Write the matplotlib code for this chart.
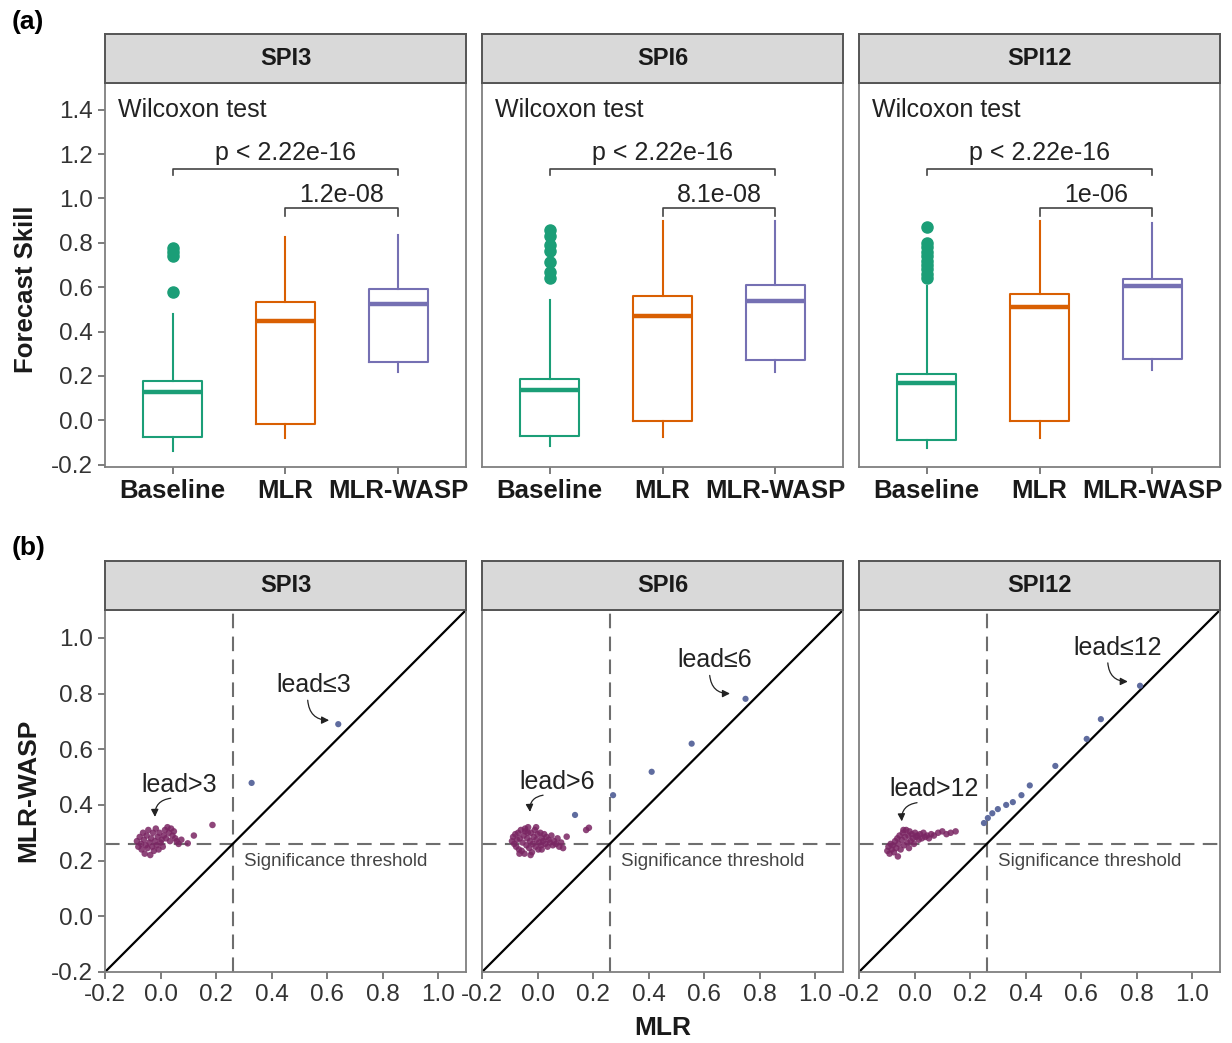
import matplotlib
matplotlib.use('Agg')
import matplotlib.pyplot as plt

plt.rcParams['font.family'] = ['Liberation Sans', 'DejaVu Sans']

W, H = 1232, 1043

spi_names = ['SPI3', 'SPI6', 'SPI12']
models = ['Baseline', 'MLR', 'MLR-WASP']
model_colors = ['#1b9e77', '#d95f02', '#7570b3']

# box statistics, rows = SPI3 / SPI6 / SPI12, cols = Baseline / MLR / MLR-WASP
box_med = [[0.13, 0.446, 0.524], [0.138, 0.469, 0.536], [0.168, 0.509, 0.604]]
box_q1 = [[-0.077, -0.017, 0.261], [-0.069, -0.005, 0.273], [-0.087, -0.005, 0.276]]
box_q3 = [[0.179, 0.533, 0.59], [0.186, 0.559, 0.608], [0.21, 0.569, 0.637]]
box_lo = [[-0.14, -0.08, 0.22], [-0.117, -0.077, 0.218], [-0.125, -0.08, 0.228]]
box_hi = [[0.48, 0.825, 0.837], [0.543, 0.897, 0.897], [0.604, 0.897, 0.89]]
baseline_outliers = [[0.58, 0.74, 0.76, 0.777],
                     [0.641, 0.67, 0.712, 0.762, 0.79, 0.83, 0.859],
                     [0.64, 0.66, 0.68, 0.7, 0.72, 0.74, 0.76, 0.78, 0.8, 0.87]]
p_all = ['p < 2.22e-16', 'p < 2.22e-16', 'p < 2.22e-16']
p_mlr = ['1.2e-08', '8.1e-08', '1e-06']

# scatter: MLR (x) vs MLR-WASP (y)
spi3_far_x = [-0.085, -0.08, -0.075, -0.07, -0.068, -0.063, -0.06, -0.057, -0.053, -0.05,
              -0.047, -0.044, -0.04, -0.037, -0.034, -0.03, -0.027, -0.024, -0.02, -0.017,
              -0.014, -0.01, -0.007, -0.004, 0.0, 0.004, 0.008, 0.012, 0.016, 0.02,
              0.025, 0.03, 0.034, 0.038, 0.043, 0.048, 0.053, 0.058, 0.065, 0.075,
              0.098, 0.12, 0.187]
spi3_far_y = [0.27, 0.25, 0.285, 0.26, 0.24, 0.3, 0.275, 0.225, 0.255, 0.29,
              0.245, 0.31, 0.265, 0.22, 0.28, 0.25, 0.3, 0.235, 0.27, 0.315,
              0.255, 0.285, 0.24, 0.3, 0.265, 0.275, 0.25, 0.29, 0.31, 0.28,
              0.32, 0.3, 0.27, 0.315, 0.29, 0.305, 0.28, 0.27, 0.26, 0.275,
              0.262, 0.29, 0.328]
spi3_near_x = [0.328, 0.64]
spi3_near_y = [0.479, 0.69]

spi6_far_x = [-0.092, -0.088, -0.084, -0.08, -0.077, -0.074, -0.07, -0.067, -0.064, -0.06,
              -0.057, -0.054, -0.05, -0.047, -0.044, -0.04, -0.037, -0.034, -0.03, -0.027,
              -0.024, -0.02, -0.017, -0.014, -0.01, -0.007, -0.004, 0.0, 0.003, 0.006,
              0.01, 0.013, 0.016, 0.02, 0.024, 0.028, 0.032, 0.036, 0.04, 0.045,
              0.05, 0.055, 0.06, 0.066, 0.072, 0.078, 0.085, 0.092, -0.045, -0.025,
              -0.005, 0.015, -0.065, -0.035, 0.105, 0.175, 0.185]
spi6_far_y = [0.27, 0.285, 0.26, 0.295, 0.25, 0.275, 0.3, 0.24, 0.28, 0.31,
              0.235, 0.265, 0.29, 0.225, 0.305, 0.255, 0.28, 0.32, 0.245, 0.27,
              0.3, 0.23, 0.26, 0.285, 0.31, 0.25, 0.275, 0.295, 0.24, 0.265,
              0.3, 0.255, 0.28, 0.27, 0.295, 0.26, 0.285, 0.25, 0.275, 0.265,
              0.29, 0.255, 0.27, 0.26, 0.28, 0.25, 0.265, 0.245, 0.315, 0.22,
              0.32, 0.24, 0.225, 0.3, 0.286, 0.31, 0.318]
spi6_near_x = [0.135, 0.272, 0.411, 0.555, 0.749]
spi6_near_y = [0.364, 0.435, 0.519, 0.62, 0.781]

spi12_far_x = [-0.098, -0.094, -0.09, -0.086, -0.082, -0.078, -0.074, -0.07, -0.066, -0.062,
               -0.058, -0.054, -0.05, -0.046, -0.042, -0.038, -0.034, -0.03, -0.026, -0.022,
               -0.018, -0.014, -0.01, -0.006, -0.002, 0.002, 0.006, 0.01, 0.015, 0.02,
               0.026, 0.032, 0.038, 0.045, 0.052, 0.06, 0.07, 0.085, 0.1, 0.115,
               0.13, 0.148, -0.06, -0.04, -0.02]
spi12_far_y = [0.235, 0.25, 0.225, 0.26, 0.24, 0.255, 0.23, 0.27, 0.245, 0.28,
               0.26, 0.29, 0.24, 0.275, 0.3, 0.255, 0.285, 0.31, 0.265, 0.29,
               0.305, 0.27, 0.295, 0.28, 0.26, 0.3, 0.285, 0.29, 0.275, 0.295,
               0.28, 0.3, 0.285, 0.29, 0.28, 0.295, 0.29, 0.3, 0.305, 0.295,
               0.3, 0.305, 0.215, 0.31, 0.245]
spi12_near_x = [0.25, 0.264, 0.28, 0.30, 0.33, 0.354, 0.385, 0.415, 0.507, 0.62, 0.671, 0.812]
spi12_near_y = [0.335, 0.353, 0.37, 0.385, 0.40, 0.41, 0.435, 0.47, 0.54, 0.637, 0.708, 0.828]

far_x = [spi3_far_x, spi6_far_x, spi12_far_x]
far_y = [spi3_far_y, spi6_far_y, spi12_far_y]
near_x = [spi3_near_x, spi6_near_x, spi12_near_x]
near_y = [spi3_near_y, spi6_near_y, spi12_near_y]
lead_far_labels = ['lead>3', 'lead>6', 'lead>12']
lead_near_labels = ['lead\u22643', 'lead\u22646', 'lead\u226412']
threshold = 0.26

far_color = '#7a2663'
near_color = '#5f6c9f'

# label / arrow placement per panel (data coords)
near_txt = [(0.552, 0.83), (0.639, 0.919), (0.733, 0.964)]
near_arrow = [((0.53, 0.776), (0.607, 0.704)), ((0.62, 0.865), (0.693, 0.8)),
              ((0.696, 0.91), (0.768, 0.843))]
far_txt = [(0.067, 0.471), (0.069, 0.483), (0.07, 0.456)]
far_arrow = [((0.037, 0.424), (-0.02, 0.357)), ((0.02, 0.435), (-0.027, 0.375)),
             ((0.009, 0.408), (-0.046, 0.341))]

fig = plt.figure(figsize=(W / 100, H / 100), dpi=100)
panel_left = [105, 482, 859]
panel_w = 361


def add_panel(left, strip_top, top, bottom, title):
    ax = fig.add_axes([left / W, 1 - bottom / H, panel_w / W, (bottom - top) / H])
    sax = fig.add_axes([left / W, 1 - top / H, panel_w / W, (top - strip_top) / H])
    sax.set_facecolor('#d9d9d9')
    sax.set_xticks([])
    sax.set_yticks([])
    for s in sax.spines.values():
        s.set_color('#555555')
        s.set_linewidth(1.4)
    sax.text(0.5, 0.5, title, ha='center', va='center', fontsize=17,
             fontweight='bold', color='#1a1a1a', transform=sax.transAxes)
    for s in ax.spines.values():
        s.set_color('#7f7f7f')
        s.set_linewidth(1.3)
    ax.tick_params(direction='out', length=5, width=1.2, color='#666666',
                   labelcolor='#333333', labelsize=17.5)
    return ax


# ---- (a) boxplots ----
for i, name in enumerate(spi_names):
    ax = add_panel(panel_left[i], 34, 83, 467, name)
    stats = []
    for j in range(3):
        stats.append(dict(med=box_med[i][j], q1=box_q1[i][j], q3=box_q3[i][j],
                          whislo=box_lo[i][j], whishi=box_hi[i][j],
                          fliers=baseline_outliers[i] if j == 0 else []))
    bp = ax.bxp(stats, positions=[1, 2, 3], widths=0.52, showcaps=False,
                manage_ticks=False)
    for j in range(3):
        c = model_colors[j]
        bp['boxes'][j].set(color=c, linewidth=1.5)
        bp['medians'][j].set(color=c, linewidth=3.2)
        bp['whiskers'][2 * j].set(color=c, linewidth=1.5)
        bp['whiskers'][2 * j + 1].set(color=c, linewidth=1.5)
        bp['fliers'][j].set(marker='o', markerfacecolor=c, markeredgecolor=c,
                            markersize=8)
    ax.set_xlim(0.4, 3.6)
    ax.set_ylim(-0.21, 1.52)
    ax.set_xticks([1, 2, 3])
    ax.set_xticklabels(models, fontsize=18.5, fontweight='bold', color='#1a1a1a')
    ax.set_yticks([-0.2, 0.0, 0.2, 0.4, 0.6, 0.8, 1.0, 1.2, 1.4])
    if i == 0:
        ax.set_yticklabels(['-0.2', '0.0', '0.2', '0.4', '0.6', '0.8', '1.0', '1.2', '1.4'])
    else:
        ax.tick_params(axis='y', left=False, labelleft=False)
    ax.text(0.035, 1.40, 'Wilcoxon test', fontsize=18, color='#222222',
            va='center', transform=ax.get_yaxis_transform())
    # brackets
    ax.plot([1, 1, 3, 3], [1.107, 1.134, 1.134, 1.107], color='#444444', lw=1.2)
    ax.text(2, 1.15, p_all[i], ha='center', va='bottom', fontsize=18, color='#222222')
    ax.plot([2, 2, 3, 3], [0.92, 0.957, 0.957, 0.92], color='#444444', lw=1.2)
    ax.text(2.5, 0.962, p_mlr[i], ha='center', va='bottom', fontsize=18, color='#222222')

# ---- (b) scatter ----
for i, name in enumerate(spi_names):
    ax = add_panel(panel_left[i], 561, 610, 972, name)
    ax.plot([-0.2, 1.1], [-0.2, 1.1], color='black', lw=1.6, zorder=2)
    ax.axvline(threshold, color='#6e6e6e', lw=1.5, ls=(0, (7, 4)), zorder=1)
    ax.axhline(threshold, color='#6e6e6e', lw=1.5, ls=(0, (7, 4)), zorder=1)
    ax.scatter(far_x[i], far_y[i], s=22, color=far_color, alpha=0.85,
               edgecolors='none', zorder=3)
    ax.scatter(near_x[i], near_y[i], s=20, color=near_color, edgecolors='none', zorder=3)
    ax.text(0.30, 0.196, 'Significance threshold', fontsize=13.5, color='#444444',
            va='center', ha='left')
    ax.text(*near_txt[i], lead_near_labels[i], fontsize=18, color='#222222',
            ha='center', va='center')
    ax.text(*far_txt[i], lead_far_labels[i], fontsize=18, color='#222222',
            ha='center', va='center')
    for tail, head in (near_arrow[i], far_arrow[i]):
        ax.annotate('', xy=head, xytext=tail,
                    arrowprops=dict(arrowstyle='-|>', connectionstyle='arc3,rad=0.45',
                                    color='#222222', lw=0.9, mutation_scale=11,
                                    shrinkA=0, shrinkB=0))
    ax.set_xlim(-0.2, 1.1)
    ax.set_ylim(-0.2, 1.1)
    ticks = [-0.2, 0.0, 0.2, 0.4, 0.6, 0.8, 1.0]
    tick_lbl = ['-0.2', '0.0', '0.2', '0.4', '0.6', '0.8', '1.0']
    ax.set_xticks(ticks)
    ax.set_xticklabels(tick_lbl)
    ax.set_yticks(ticks)
    if i == 0:
        ax.set_yticklabels(tick_lbl)
    else:
        ax.tick_params(axis='y', left=False, labelleft=False)

fig.text(26 / W, 1 - 289 / H, 'Forecast Skill', rotation=90, ha='center', va='center',
         fontsize=18.5, fontweight='bold', color='#1a1a1a')
fig.text(28 / W, 1 - 790 / H, 'MLR-WASP', rotation=90, ha='center', va='center',
         fontsize=19, fontweight='bold', color='#1a1a1a')
fig.text(663 / W, 1 - 1028 / H, 'MLR', ha='center', va='center',
         fontsize=19, fontweight='bold', color='#1a1a1a')
fig.text(12 / W, 1 - 22 / H, '(a)', ha='left', va='center', fontsize=19, fontweight='bold')
fig.text(12 / W, 1 - 548 / H, '(b)', ha='left', va='center', fontsize=19, fontweight='bold')

fig.savefig('out.png', dpi=100, facecolor='white')
